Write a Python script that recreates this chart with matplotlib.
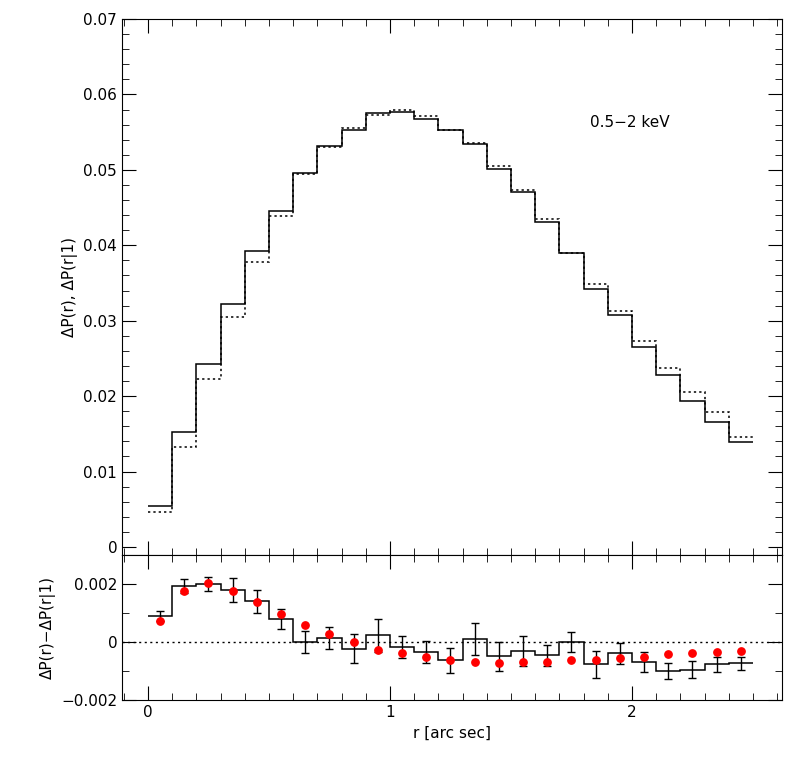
import matplotlib
matplotlib.use('Agg')
import matplotlib.pyplot as plt
import numpy as np
from matplotlib.ticker import MultipleLocator

# bins of 0.1 arcsec from 0 to 2.5
bordas = np.round(np.arange(0, 2.51, 0.1), 2)
centros = bordas[:-1] + 0.05

dp_solido = [0.00544, 0.01525, 0.0243, 0.0322, 0.0392, 0.0445, 0.0496, 0.0532, 0.0553, 0.0575,
             0.0577, 0.0567, 0.0553, 0.0534, 0.0501, 0.0471, 0.0431, 0.0390, 0.0342, 0.0308,
             0.0265, 0.0228, 0.0194, 0.0166, 0.0139]
dp_pontilhado = [0.0046, 0.0133, 0.0223, 0.0305, 0.0378, 0.0439, 0.0495, 0.0530, 0.0555, 0.0573,
                 0.0579, 0.0571, 0.0553, 0.0536, 0.0505, 0.0473, 0.0435, 0.0390, 0.0349, 0.0313,
                 0.0273, 0.0237, 0.0205, 0.0179, 0.0146]

resid = [0.00091, 0.00194, 0.0020, 0.00179, 0.00141, 0.0008, 0.0, 0.00014, -0.00023, 0.00023,
         -0.00017, -0.00034, -0.00063, 0.00011, -0.00049, -0.00032, -0.00046, 0.0, -0.00077, -0.00039,
         -0.00069, -0.00099, -0.00095, -0.00077, -0.00074]
resid_err = [0.00017, 0.00024, 0.00024, 0.00041, 0.0004, 0.00034, 0.00039, 0.00038, 0.0005, 0.00058,
             0.00037, 0.00037, 0.00043, 0.00056, 0.0005, 0.00051, 0.00037, 0.00035, 0.00047, 0.00037,
             0.00035, 0.00027, 0.00029, 0.00026, 0.00023]
modelo = [0.00074, 0.00177, 0.00202, 0.00177, 0.00137, 0.00097, 0.00059, 0.00026, 0.0, -0.00026,
          -0.00039, -0.00051, -0.00061, -0.00069, -0.00072, -0.0007, -0.00069, -0.00063, -0.00061, -0.00055,
          -0.00053, -0.00043, -0.00039, -0.00033, -0.0003]

W, H = 797, 770
fig = plt.figure(figsize=(W / 100, H / 100), dpi=100)
esq, dir_ = 122 / W, 782 / W
ax1 = fig.add_axes([esq, 1 - 555 / H, dir_ - esq, (555 - 19) / H])
ax2 = fig.add_axes([esq, 1 - 700 / H, dir_ - esq, (700 - 555) / H], sharex=ax1)

ax1.stairs(dp_solido, bordas, baseline=None, color='black', lw=1.1)
ax1.stairs(dp_pontilhado, bordas, baseline=None, color='black', lw=1.1, ls=(0, (1.5, 2)))
ax1.set_ylim(-0.00106, 0.07)
ax1.set_xlim(-0.107, 2.62)
ax1.text(1.826, 0.0557, '0.5\u22122 keV', fontsize=11)
ax1.set_ylabel('\u0394P(r), \u0394P(r|1)', fontsize=11)
ax1.yaxis.set_minor_locator(MultipleLocator(0.002))
ax1.set_yticks(np.arange(0, 0.071, 0.01))
ax1.set_yticklabels(['0'] + ['%.2f' % v for v in np.arange(0.01, 0.071, 0.01)])
plt.setp(ax1.get_xticklabels(), visible=False)

ax2.stairs(resid, bordas, baseline=None, color='black', lw=1.1)
ax2.errorbar(centros, resid, yerr=resid_err, fmt='none', ecolor='black', elinewidth=1, capsize=3)
ax2.scatter(centros, modelo, color='red', s=28, zorder=3)
ax2.axhline(0, color='black', lw=1, ls=(0, (1.5, 2.5)))
ax2.set_ylim(-0.002, 0.003)
ax2.set_yticks([-0.002, 0, 0.002])
ax2.set_yticklabels(['\u22120.002', '0', '0.002'])
ax2.yaxis.set_minor_locator(MultipleLocator(0.001))
ax2.set_xticks([0, 1, 2])
ax2.set_xticklabels(['0', '1', '2'])
ax2.xaxis.set_minor_locator(MultipleLocator(0.1))
ax2.set_xlabel('r [arc sec]', fontsize=11)
ax2.set_ylabel('\u0394P(r)\u2212\u0394P(r|1)', fontsize=11)

for ax in (ax1, ax2):
    ax.tick_params(which='both', direction='in', top=True, right=True, labelsize=11)
    ax.tick_params(which='major', length=10)
    ax.tick_params(which='minor', length=5)

fig.align_ylabels([ax1, ax2])
plt.savefig('out.png', dpi=100)
